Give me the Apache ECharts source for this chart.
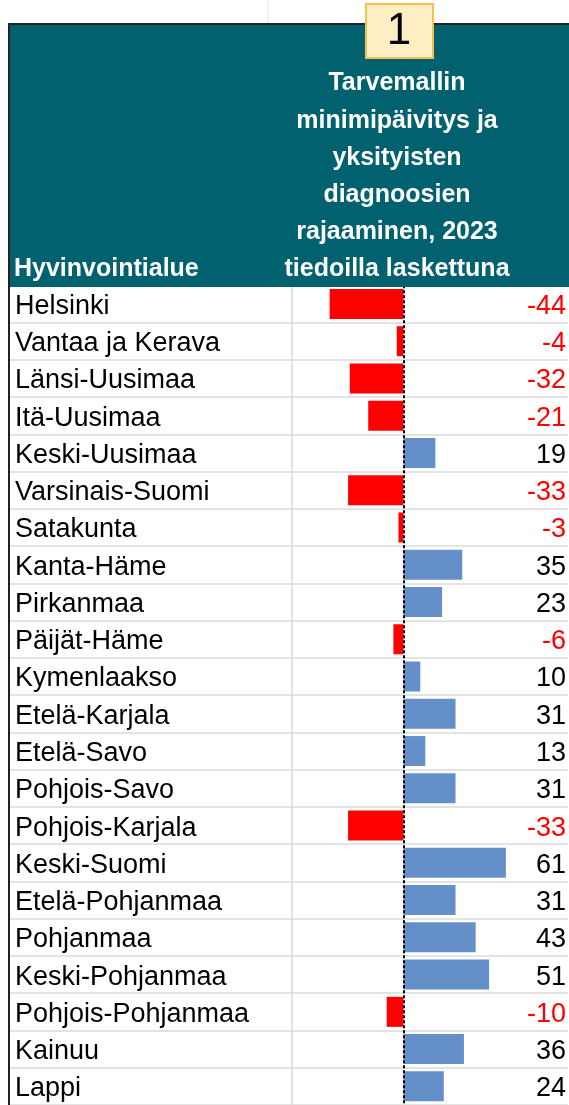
<!DOCTYPE html>
<html>
<head>
<meta charset="utf-8">
<script src="https://cdn.jsdelivr.net/npm/echarts@6/dist/echarts.min.js"></script>
<style>
  html, body { margin: 0; padding: 0; background: #fff; }
  #main { width: 569px; height: 1105px; }
</style>
</head>
<body>
<div id="main"></div>
<script>
  // regions (rows, top to bottom)
  var regions = [
    "Helsinki", "Vantaa ja Kerava", "Länsi-Uusimaa", "Itä-Uusimaa",
    "Keski-Uusimaa", "Varsinais-Suomi", "Satakunta", "Kanta-Häme",
    "Pirkanmaa", "Päijät-Häme", "Kymenlaakso", "Etelä-Karjala",
    "Etelä-Savo", "Pohjois-Savo", "Pohjois-Karjala", "Keski-Suomi",
    "Etelä-Pohjanmaa", "Pohjanmaa", "Keski-Pohjanmaa", "Pohjois-Pohjanmaa",
    "Kainuu", "Lappi"
  ];
  // change values, one per region
  var values = [
    -44, -4, -32, -21, 19, -33, -3, 35, 23, -6, 10,
    31, 13, 31, -33, 61, 31, 43, 51, -10, 36, 24
  ];
  var rowHeader = "Hyvinvointialue";
  var colHeader = "Tarvemallin\nminimipäivitys ja\nyksityisten\ndiagnoosien\nrajaaminen, 2023\ntiedoilla laskettuna";
  var colNumber = "1";

  var font = "Arial, 'Liberation Sans', sans-serif";
  var teal = "#02616e";

  var myChart = echarts.init(document.getElementById("main"));

  var option = {
    animation: false,
    backgroundColor: "#fff",
    grid: { left: 9, top: 285.3, width: 560, height: 22 * 37.45 },
    xAxis: {
      type: "value",
      min: -235,
      max: 98,
      show: false,
    },
    yAxis: [
      {
        type: "category",
        inverse: true,
        data: regions,
        axisLine: { show: false },
        axisTick: { show: false },
        splitLine: { show: true, lineStyle: { color: "#dadada", width: 1.5 } },
        axisLabel: {
          inside: true,
          interval: 0,
          margin: 6,
          align: "left",
          fontFamily: font,
          fontSize: 27,
          padding: [5, 0, 0, 0],
          formatter: function (v) {
            return "{name|" + v + "}";
          },
          rich: {
            name: { color: "#000", fontFamily: font, fontSize: 27 },
          },
        },
      },
      {
        type: "category",
        inverse: true,
        position: "right",
        data: values.map(String),
        axisLine: { show: false },
        axisTick: { show: false },
        axisLabel: {
          inside: true,
          interval: 0,
          margin: 2,
          align: "right",
          fontFamily: font,
          fontSize: 27,
          padding: [5, 0, 0, 0],
          formatter: function (v) {
            return Number(v) < 0 ? "{neg|" + v + "}" : "{pos|" + v + "}";
          },
          rich: {
            neg: { color: "#ff0000", fontFamily: font, fontSize: 27 },
            pos: { color: "#000", fontFamily: font, fontSize: 27 },
          },
        },
      },
    ],
    series: [
      {
        type: "bar",
        data: values,
        barWidth: 30,
        itemStyle: {
          color: function (p) {
            return p.value < 0 ? "#ff0000" : "#648fc8";
          },
        },
        markLine: {
          silent: true,
          symbol: "none",
          label: { show: false },
          lineStyle: { color: "#000", type: [3, 2], width: 2 },
          data: [{ xAxis: 0 }],
        },
      },
    ],
    graphic: [
      // column divider in the table body
      {
        type: "line",
        z: 1,
        shape: { x1: 292, y1: 285, x2: 292, y2: 1105 },
        style: { stroke: "#dadada", lineWidth: 1.5 },
      },
      // header block
      {
        type: "rect",
        z: 100,
        shape: { x: 9, y: 24, width: 560, height: 263 },
        style: { fill: teal },
      },
      {
        type: "line",
        z: 101,
        shape: { x1: 8, y1: 24, x2: 569, y2: 24 },
        style: { stroke: "#222", lineWidth: 2 },
      },
      {
        type: "line",
        z: 101,
        shape: { x1: 268, y1: 0, x2: 268, y2: 23 },
        style: { stroke: "#e4e4e4", lineWidth: 1 },
      },
      {
        type: "line",
        z: 101,
        shape: { x1: 9, y1: 24, x2: 9, y2: 1105 },
        style: { stroke: "#222", lineWidth: 2 },
      },
      {
        type: "text",
        z: 102,
        x: 14,
        y: 269,
        style: {
          text: rowHeader,
          fill: "#fff",
          font: "bold 25px " + font,
          textAlign: "left",
          textVerticalAlign: "middle",
        },
      },
      {
        type: "text",
        z: 102,
        x: 397,
        y: 65,
        style: {
          text: colHeader,
          fill: "#fff",
          font: "bold 25px " + font,
          lineHeight: 37.2,
          textAlign: "center",
          textVerticalAlign: "top",
        },
      },
      // numbered box
      {
        type: "rect",
        z: 103,
        shape: { x: 366, y: 4, width: 67, height: 54 },
        style: { fill: "#ffedc4", stroke: "#f6c04f", lineWidth: 2 },
      },
      {
        type: "text",
        z: 104,
        x: 399,
        y: 32,
        style: {
          text: colNumber,
          fill: "#000",
          font: "44px " + font,
          textAlign: "center",
          textVerticalAlign: "middle",
        },
      },
    ],
  };

  myChart.setOption(option);
</script>
</body>
</html>
